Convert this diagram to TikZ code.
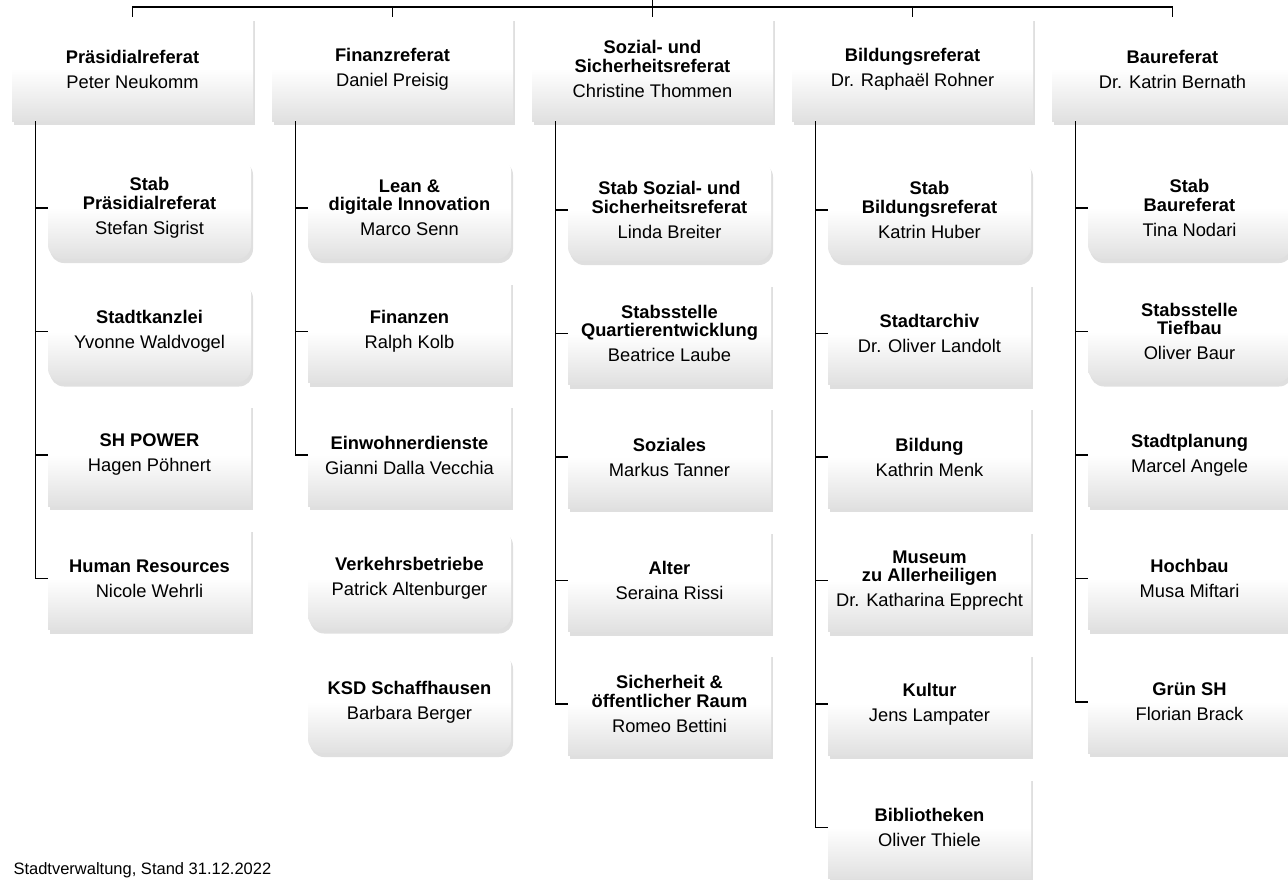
\documentclass[tikz,border=0pt]{standalone}
\usepackage{fontspec}
\setmainfont{Liberation Sans}
\usepackage{tikz}
\usetikzlibrary{shadows}
\usepackage{xcolor}

\begin{document}
\begin{tikzpicture}[
    x=1pt, y=-1pt,
    font=\fontsize{18.3}{18.5}\selectfont,
    box/.style={top color=white, bottom color=black!12, middle color=white,
        minimum width=203pt, minimum height=102pt, inner sep=0pt, align=center,
        drop shadow={shadow xshift=2pt, shadow yshift=-4pt, opacity=.25}},
    head/.style={box, minimum width=241pt, minimum height=104pt},
    rbox/.style={box, rounded corners=14pt},
    link/.style={draw=black, line width=1.1pt},
]
    \useasboundingbox (0,0) rectangle (1288,879);
    % referate
    \node[head] (pra) at (132.5,69) {\textbf{Präsidialreferat}\\[6.5pt]Peter Neukomm};
    \node[head] (fin) at (392.5,69) {\textbf{Finanzreferat}\\[6.5pt]Daniel Preisig};
    \node[head] (soz) at (652.5,69) {\textbf{Sozial- und}\\\textbf{Sicherheitsreferat}\\[6.5pt]Christine Thommen};
    \node[head] (bil) at (912.5,69) {\textbf{Bildungsreferat}\\[6.5pt]Dr. Raphaël Rohner};
    \node[head] (bau) at (1172.5,69) {\textbf{Baureferat}\\[6.5pt]Dr. Katrin Bernath};
    % praesidialreferat
    \node[rbox] (pra1) at (149.5,208) {\textbf{Stab}\\\textbf{Präsidialreferat}\\[6.5pt]Stefan Sigrist};
    \node[rbox] (pra2) at (149.5,331.5) {\textbf{Stadtkanzlei}\\[6.5pt]Yvonne Waldvogel};
    \node[box] (pra3) at (149.5,455) {\textbf{SH POWER}\\[6.5pt]Hagen Pöhnert};
    \node[box] (pra4) at (149.5,578.5) {\textbf{Human Resources}\\[6.5pt]Nicole Wehrli};
    % finanzreferat
    \node[rbox] (fin1) at (409.5,208) {\textbf{Lean \&}\\\textbf{digitale Innovation}\\[6.5pt]Marco Senn};
    \node[box] (fin2) at (409.5,331.5) {\textbf{Finanzen}\\[6.5pt]Ralph Kolb};
    \node[box] (fin3) at (409.5,455) {\textbf{Einwohnerdienste}\\[6.5pt]Gianni Dalla Vecchia};
    \node[rbox] (fin4) at (409.5,578.5) {\textbf{Verkehrsbetriebe}\\[6.5pt]Patrick Altenburger};
    \node[rbox] (fin5) at (409.5,702) {\textbf{KSD Schaffhausen}\\[6.5pt]Barbara Berger};
    % sozial- und sicherheitsreferat
    \node[rbox] (soz1) at (669.5,210) {\textbf{Stab Sozial- und}\\\textbf{Sicherheitsreferat}\\[6.5pt]Linda Breiter};
    \node[box] (soz2) at (669.5,333.5) {\textbf{Stabsstelle}\\\textbf{Quartierentwicklung}\\[6.5pt]Beatrice Laube};
    \node[box] (soz3) at (669.5,457) {\textbf{Soziales}\\[6.5pt]Markus Tanner};
    \node[box] (soz4) at (669.5,580.5) {\textbf{Alter}\\[6.5pt]Seraina Rissi};
    \node[box] (soz5) at (669.5,704) {\textbf{Sicherheit \&}\\\textbf{öffentlicher Raum}\\[6.5pt]Romeo Bettini};
    % bildungsreferat
    \node[rbox] (bil1) at (929.5,210) {\textbf{Stab}\\\textbf{Bildungsreferat}\\[6.5pt]Katrin Huber};
    \node[box] (bil2) at (929.5,333.5) {\textbf{Stadtarchiv}\\[6.5pt]Dr. Oliver Landolt};
    \node[box] (bil3) at (929.5,457) {\textbf{Bildung}\\[6.5pt]Kathrin Menk};
    \node[box] (bil4) at (929.5,580.5) {\textbf{Museum}\\\textbf{zu Allerheiligen}\\[6.5pt]Dr. Katharina Epprecht};
    \node[box] (bil5) at (929.5,704) {\textbf{Kultur}\\[6.5pt]Jens Lampater};
    \node[box] (bil6) at (929.5,827.5) {\textbf{Bibliotheken}\\[6.5pt]Oliver Thiele};
    % baureferat
    \node[rbox] (bau1) at (1189.5,208) {\textbf{Stab}\\\textbf{Baureferat}\\[6.5pt]Tina Nodari};
    \node[rbox] (bau2) at (1189.5,331.5) {\textbf{Stabsstelle}\\\textbf{Tiefbau}\\[6.5pt]Oliver Baur};
    \node[box] (bau3) at (1189.5,455) {\textbf{Stadtplanung}\\[6.5pt]Marcel Angele};
    \node[box] (bau4) at (1189.5,578.5) {\textbf{Hochbau}\\[6.5pt]Musa Miftari};
    \node[box] (bau5) at (1189.5,702) {\textbf{Grün SH}\\[6.5pt]Florian Brack};
    % top bar
    \coordinate (top) at (652.5,0);
    \coordinate (bar) at (652.5,7);
    \draw[link] (top) -- (soz.north);
    \draw[link] (pra.north) |- (bar) -| (bau.north);
    \draw[link] (fin.north) -- (fin.north |- bar);
    \draw[link] (bil.north) -- (bil.north |- bar);
    % trunks
    \foreach \c/\n in {pra/4, fin/3, soz/5, bil/6, bau/5} {
        \coordinate (t\c) at ([xshift=24pt]\c.south west);
        \draw[link] (t\c) |- (\c\n.west);
        \foreach \i in {1,...,\n}
            \draw[link] (t\c |- \c\i.west) -- (\c\i.west);
    }
    % footer
    \node[anchor=base west, font=\fontsize{16.5}{18}\selectfont] (stand) at (10,874) {Stadtverwaltung, Stand 31.12.2022};
\end{tikzpicture}
\end{document}
